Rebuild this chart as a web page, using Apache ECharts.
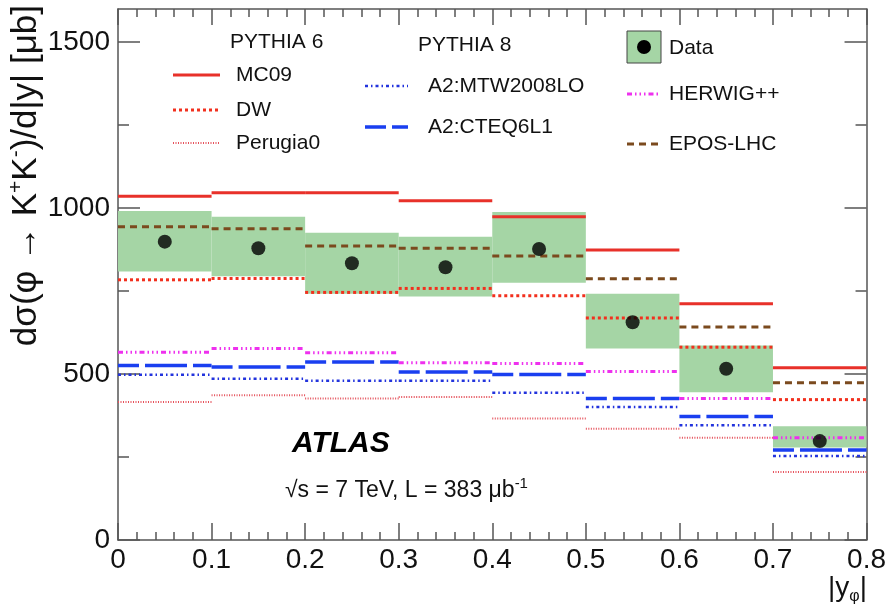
<!DOCTYPE html>
<html>
<head>
<meta charset="utf-8">
<script src="https://cdn.jsdelivr.net/npm/echarts@6/dist/echarts.min.js"></script>
<style>
  html, body { margin: 0; padding: 0; background: #ffffff; }
  #chart { width: 889px; height: 612px; }
</style>
</head>
<body>
<div id="chart"></div>
<script>
// Bins in |y_phi|
const binEdges = [0, 0.1, 0.2, 0.3, 0.4, 0.5, 0.6, 0.7, 0.8];

// Measured cross section (central value and total uncertainty band), in microbarn
const dataValues = [899, 879, 834, 822, 877, 656, 516, 298];
const dataLow    = [809, 795, 742, 734, 775, 577, 445, 279];
const dataHigh   = [991, 974, 926, 914, 988, 742, 586, 343];

// Monte Carlo predictions
const mc09     = [1036, 1046, 1046, 1022, 974, 874, 712, 519];
const dw       = [784, 788, 746, 758, 736, 669, 581, 423];
const perugia0 = [416, 436, 426, 431, 366, 335, 308, 205];
const a2Mtw    = [498, 486, 480, 480, 444, 401, 346, 253];
const a2Cteq   = [526, 521, 536, 506, 499, 426, 372, 271];
const herwig   = [566, 577, 564, 534, 532, 508, 426, 308];
const epos     = [944, 938, 886, 879, 856, 787, 642, 474];

// Axis ticks
const xTickLabels = ['0', '0.1', '0.2', '0.3', '0.4', '0.5', '0.6', '0.7', '0.8'];
const yMajorTicks = [0, 500, 1000, 1500];
const yMinorTicks = [250, 750, 1250];

const FONT = 'Liberation Sans, Arial, Helvetica, sans-serif';
const AXIS_COLOR = '#555555';

const styles = {
  mc09:     { color: '#e8312a', width: 3,   dash: null },
  dw:       { color: '#f2301e', width: 3,   dash: [3, 3] },
  perugia0: { color: '#e5505a', width: 2,   dash: [1, 1.5] },
  a2Mtw:    { color: '#2233dd', width: 2.5, dash: [3, 3, 1.5, 3] },
  a2Cteq:   { color: '#1a3ff0', width: 3.5, dash: [21, 6, 42, 6] },
  herwig:   { color: '#ee30ee', width: 3,   dash: [5, 3, 1.5, 3, 1.5, 3, 1.5, 3] },
  epos:     { color: '#7b4a1e', width: 3,   dash: [7, 5] }
};

function binRows(values) {
  return values.map((v, i) => [binEdges[i], binEdges[i + 1], v]);
}

function histSeries(name, values, st) {
  return {
    type: 'custom',
    name: name,
    data: binRows(values),
    encode: { x: [0, 1], y: 2 },
    renderItem: function (params, api) {
      const a = api.coord([api.value(0), api.value(2)]);
      const b = api.coord([api.value(1), api.value(2)]);
      return {
        type: 'line',
        shape: { x1: a[0], y1: a[1], x2: b[0], y2: b[1] },
        style: { stroke: st.color, lineWidth: st.width, lineDash: st.dash, fill: null }
      };
    }
  };
}

const bandSeries = {
  type: 'custom',
  name: 'Data band',
  data: dataLow.map((lo, i) => [binEdges[i], binEdges[i + 1], lo, dataHigh[i]]),
  encode: { x: [0, 1], y: [2, 3] },
  renderItem: function (params, api) {
    const p1 = api.coord([api.value(0), api.value(3)]);
    const p2 = api.coord([api.value(1), api.value(2)]);
    return {
      type: 'rect',
      shape: { x: p1[0], y: p1[1], width: p2[0] - p1[0], height: p2[1] - p1[1] },
      style: { fill: '#a5d5a5' }
    };
  }
};

const pointSeries = {
  type: 'scatter',
  name: 'Data',
  data: dataValues.map((v, i) => [(binEdges[i] + binEdges[i + 1]) / 2, v]),
  symbol: 'circle',
  symbolSize: 14,
  itemStyle: { color: '#000000' },
  z: 5
};

// Legend built from graphic primitives
function legendLine(x1, x2, y, st) {
  return {
    type: 'line',
    shape: { x1: x1, y1: y, x2: x2, y2: y },
    style: { stroke: st.color, lineWidth: st.width, lineDash: st.dash }
  };
}
function legendText(x, y, text, extra) {
  return {
    type: 'text', x: x, y: y,
    style: Object.assign({ text: text, font: '21px ' + FONT, fill: '#111', verticalAlign: 'middle', align: 'left' }, extra || {})
  };
}

const legendItems = [
  legendText(230, 42, 'PYTHIA 6'),
  legendLine(173, 220, 75, styles.mc09),     legendText(236, 75, 'MC09'),
  legendLine(173, 220, 110, styles.dw),      legendText(236, 110, 'DW'),
  legendLine(173, 220, 143, styles.perugia0), legendText(236, 143, 'Perugia0'),

  legendText(418, 45, 'PYTHIA 8'),
  legendLine(365, 408, 86, styles.a2Mtw),    legendText(428, 86, 'A2:MTW2008LO'),
  legendLine(365, 408, 127, styles.a2Cteq),  legendText(428, 127, 'A2:CTEQ6L1'),

  { type: 'rect', shape: { x: 627, y: 31, width: 34, height: 32 },
    style: { fill: '#a5d5a5', stroke: '#444', lineWidth: 1 } },
  { type: 'circle', shape: { cx: 644, cy: 47, r: 7 }, style: { fill: '#000' } },
  legendText(669, 48, 'Data'),
  legendLine(627, 660, 94, styles.herwig),   legendText(669, 94, 'HERWIG++'),
  legendLine(627, 660, 144, styles.epos),    legendText(669, 144, 'EPOS-LHC')
];

const annotations = [
  { type: 'text', x: 292, y: 444,
    style: { text: 'ATLAS', font: 'italic bold 30px ' + FONT, fill: '#000', verticalAlign: 'middle' } },
  { type: 'text', x: 285, y: 491,
    style: {
      text: '{n|√s = 7 TeV, L = 383 μb}{s|-1}',
      verticalAlign: 'middle',
      rich: {
        n: { font: '23px ' + FONT, fill: '#111' },
        s: { font: '15px ' + FONT, fill: '#111', padding: [0, 0, 15, 0] }
      }
    } },
  // y axis title, reading bottom to top
  { type: 'text', x: 26, y: 5, rotation: Math.PI / 2,
    style: {
      text: '{n|dσ(φ → K}{s|+}{n|K}{s|-}{n|)/d|y| [μb]}',
      align: 'right', verticalAlign: 'middle',
      rich: {
        n: { font: '35px ' + FONT, fill: '#111' },
        s: { font: '21px ' + FONT, fill: '#111', padding: [0, 0, 20, 0] }
      }
    } },
  // x axis title
  { type: 'text', x: 867, y: 588,
    style: {
      text: '{n||y}{s|φ}{n||}',
      align: 'right', verticalAlign: 'middle',
      rich: {
        n: { font: '28px ' + FONT, fill: '#111' },
        s: { font: '16px ' + FONT, fill: '#111', padding: [18, 0, 0, 0] }
      }
    } }
];

const tickStyle = { color: AXIS_COLOR, width: 1.5 };

function yAxisDef(position, ticks, length, showLabel, showLine) {
  return {
    type: 'value', position: position, min: 0, max: 1600,
    axisLine: { show: showLine, onZero: false, lineStyle: tickStyle },
    axisTick: { show: true, inside: true, length: length, customValues: ticks, lineStyle: tickStyle },
    axisLabel: {
      show: showLabel, customValues: ticks, margin: 8,
      fontSize: 28, fontFamily: FONT, color: '#111',
      formatter: function (v) { return String(v); }
    },
    splitLine: { show: false },
    minorTick: { show: false }
  };
}

function xAxisDef(position, showLabel, majorLen, minorLen) {
  return {
    type: 'value', position: position, min: 0, max: 0.8, interval: 0.1,
    axisLine: { show: true, onZero: false, lineStyle: tickStyle },
    axisTick: { show: true, inside: true, length: majorLen, lineStyle: tickStyle },
    minorTick: { show: true, splitNumber: 5, length: minorLen, lineStyle: tickStyle },
    axisLabel: {
      show: showLabel, margin: 6, fontSize: 28, fontFamily: FONT, color: '#111',
      formatter: function (v) { return xTickLabels[Math.round(v * 10)]; }
    },
    splitLine: { show: false },
    minorSplitLine: { show: false }
  };
}

const chart = echarts.init(document.getElementById('chart'), null, { renderer: 'canvas' });
chart.setOption({
  animation: false,
  backgroundColor: '#ffffff',
  grid: { left: 118, right: 22, top: 9, bottom: 72, show: false },
  xAxis: [
    xAxisDef('bottom', true, 17, 8),
    xAxisDef('top', false, 16, 8)
  ],
  yAxis: [
    yAxisDef('left', yMajorTicks, 22, true, true),
    yAxisDef('left', yMinorTicks, 11, false, false),
    yAxisDef('right', yMajorTicks, 22, false, true),
    yAxisDef('right', yMinorTicks, 11, false, false)
  ],
  series: [
    bandSeries,
    histSeries('MC09', mc09, styles.mc09),
    histSeries('DW', dw, styles.dw),
    histSeries('Perugia0', perugia0, styles.perugia0),
    histSeries('A2:MTW2008LO', a2Mtw, styles.a2Mtw),
    histSeries('A2:CTEQ6L1', a2Cteq, styles.a2Cteq),
    histSeries('HERWIG++', herwig, styles.herwig),
    histSeries('EPOS-LHC', epos, styles.epos),
    pointSeries
  ],
  graphic: legendItems.concat(annotations)
});
</script>
</body>
</html>
